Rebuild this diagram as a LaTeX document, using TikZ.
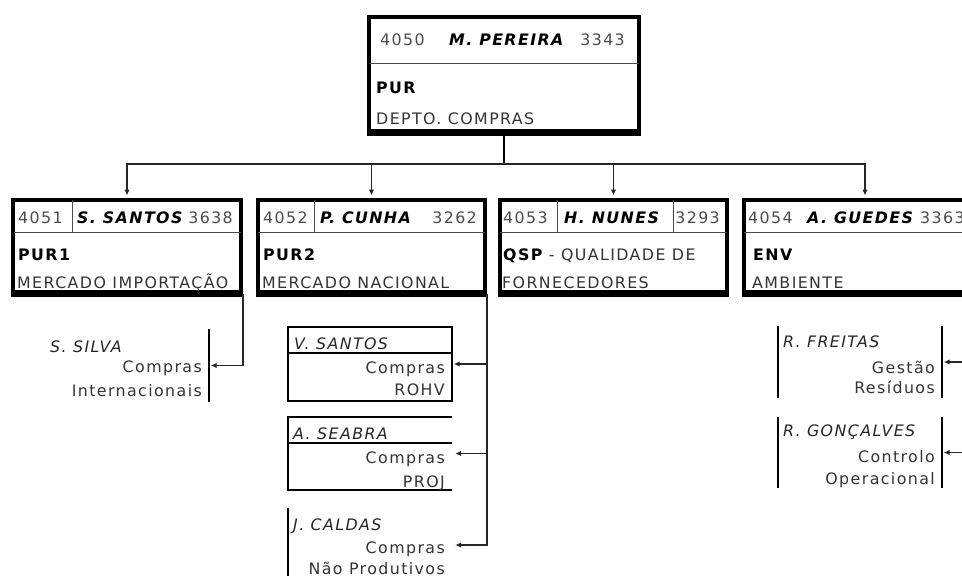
\documentclass[tikz,border=0pt]{standalone}
\usepackage{fontspec}
\setmainfont{DejaVu Sans}[LetterSpace=9]
\usetikzlibrary{arrows.meta}
\newcommand\fsz{\fontsize{15.8}{18}\selectfont}

\begin{document}
\begin{tikzpicture}[x=1pt, y=-1pt,
    unit/.style={draw, line width=4pt, inner sep=0pt, minimum height=92pt},
    sub/.style={inner sep=0pt, minimum width=164pt},
    lbl/.style={inner sep=0pt, font=\fsz, text=black!80},
    num/.style={lbl, text=black!70},
    who/.style={lbl, text=black, font=\fsz\bfseries\itshape},
    code/.style={lbl, text=black, font=\fsz\bfseries},
    staff/.style={lbl, text=black!85, font=\fsz\itshape},
    rule/.style={line width=1pt, black!70},
    side/.style={line width=1.6pt},
    conn/.style={line width=1.3pt, black!85, shorten >=1.5pt, -{Latex[length=6pt,width=5.5pt]}}
  ]
  \clip (0,0) rectangle (962,576);

  % head of department
  \node[unit, minimum width=270pt, minimum height=114pt] (pereira) at (504,74) {};
  \draw[rule] (369,63) -- (639,63);
  \node[num, anchor=base west] (pereiraext) at (380,45) {4050};
  \node[who, anchor=base west] (pereiraname) at (449,45) {M. PEREIRA};
  \node[num, anchor=base east] (pereiratel) at (625,45) {3343};
  \node[code, anchor=base west] (purcode) at (376,93) {PUR};
  \node[lbl, anchor=base west] (purname) at (376,124) {DEPTO. COMPRAS};

  % sections
  \node[unit, minimum width=228pt] (santos) at (127,246) {};
  \draw[rule] (13.5,232) -- (241,232);
  \draw[rule] (72,200) -- (72,232);
  \node[num, anchor=base west] (santosext) at (18,223) {4051};
  \node[who, anchor=base west] (santosname) at (77,223) {S. SANTOS};
  \node[num, anchor=base east] (santostel) at (233,223) {3638};
  \node[code, anchor=base west] (pur1code) at (18,260) {PUR1};
  \node[lbl, anchor=base west] (pur1name) at (17,288) {MERCADO IMPORTAÇÃO};

  \node[unit, minimum width=227pt] (cunha) at (371.5,246) {};
  \draw[rule] (258,232) -- (485,232);
  \draw[rule] (314,200) -- (314,232);
  \node[num, anchor=base west] (cunhaext) at (263,223) {4052};
  \node[who, anchor=base west] (cunhaname) at (320,223) {P. CUNHA};
  \node[num, anchor=base east] (cunhatel) at (477,223) {3262};
  \node[code, anchor=base west] (pur2code) at (263,260) {PUR2};
  \node[lbl, anchor=base west] (pur2name) at (262,288) {MERCADO NACIONAL};

  \node[unit, minimum width=227pt] (nunes) at (613.5,246) {};
  \draw[rule] (500,232) -- (727,232);
  \draw[rule] (557,200) -- (557,232);
  \draw[rule] (673,200) -- (673,232);
  \node[num, anchor=base west] (nunesext) at (503,223) {4053};
  \node[who, anchor=base west] (nunesname) at (564,223) {H. NUNES};
  \node[num, anchor=base east] (nunestel) at (720,223) {3293};
  \node[lbl, anchor=base west] (qspname) at (503,260) {\textcolor{black}{\bfseries QSP} - QUALIDADE DE};
  \node[lbl, anchor=base west] (qspname2) at (502,288) {FORNECEDORES};

  \node[unit, minimum width=242pt] (guedes) at (865,246) {};
  \draw[rule] (744,232) -- (986,232);
  \node[num, anchor=base west] (guedesext) at (748,223) {4054};
  \node[who, anchor=base west] (guedesname) at (807,223) {A. GUEDES};
  \node[num, anchor=base west] (guedestel) at (920,223) {3363};
  \node[code, anchor=base west] (envcode) at (753,260) {ENV};
  \node[lbl, anchor=base west] (envname) at (752,288) {AMBIENTE};

  \foreach \b in {pereira,santos,cunha,nunes,guedes}
    \draw[line width=3pt] ([yshift=-1.5pt]\b.south west) -- ([yshift=-1.5pt]\b.south east);

  % department to sections
  \coordinate (split) at (504,164);
  \draw[line width=1.3pt] (pereira.south) -- (split);
  \foreach \b in {santos,cunha,nunes,guedes}
    \draw[conn, shorten >=2.5pt] (split) -| (\b.north);

  % staff of S. SANTOS
  \node[sub, minimum width=170pt, minimum height=73pt] (silva) at (124,365.5) {};
  \draw[side] (silva.north east) -- (silva.south east);
  \node[staff, anchor=base west] (silvaname) at (50,352) {S. SILVA};
  \node[lbl, anchor=base east] (silvajob) at (202,372) {Compras};
  \node[lbl, anchor=base east] (silvajob2) at (202,396) {Internacionais};
  \draw[conn] (santos.south east) |- (silva.east);

  % staff of P. CUNHA
  \node[sub, minimum height=74pt] (vsantos) at (370,364) {};
  \draw[side] (vsantos.north west) rectangle (vsantos.south east);
  \draw[side] (288,353) -- (452,353);
  \node[staff, anchor=base west] (vsantosname) at (294,349) {V. SANTOS};
  \node[lbl, anchor=base east] (vsantosjob) at (445,373) {Compras};
  \node[lbl, anchor=base east] (vsantosjob2) at (445,395) {ROHV};

  \node[sub, minimum height=73pt] (seabra) at (370,453.5) {};
  \draw[side] (seabra.north east) -- (seabra.north west) -- (seabra.south west) -- (seabra.south east);
  \draw[side] (288,443) -- (452,443);
  \node[staff, anchor=base west] (seabraname) at (293,439) {A. SEABRA};
  \node[lbl, anchor=base east] (seabrajob) at (445,463) {Compras};
  \node[lbl, anchor=base east] (seabrajob2) at (445,487) {PROJ};

  \node[sub, minimum height=74pt] (caldas) at (370,545) {};
  \draw[side] (caldas.north west) -- (caldas.south west);
  \node[staff, anchor=base west] (caldasname) at (293,530) {J. CALDAS};
  \node[lbl, anchor=base east] (caldasjob) at (445,553) {Compras};
  \node[lbl, anchor=base east] (caldasjob2) at (445,574) {Não Produtivos};

  \draw[conn] (cunha.south east |- vsantos.east) -- (vsantos.east);
  \draw[conn, shorten >=3pt] (cunha.south east |- seabra.east) -- (seabra.east);
  \draw[conn, shorten >=3pt] (cunha.south east) |- (caldas.east);

  % staff of A. GUEDES
  \node[sub, minimum height=72pt] (freitas) at (860,362) {};
  \draw[side] (freitas.north west) -- (freitas.south west);
  \draw[side] (freitas.north east) -- (freitas.south east);
  \node[staff, anchor=base west] (freitasname) at (783,347) {R. FREITAS};
  \node[lbl, anchor=base east] (freitasjob) at (935,373) {Gestão};
  \node[lbl, anchor=base east] (freitasjob2) at (935,393) {Resíduos};

  \node[sub, minimum height=71pt] (goncalves) at (860,452.5) {};
  \draw[side] (goncalves.north west) -- (goncalves.south west);
  \draw[side] (goncalves.north east) -- (goncalves.south east);
  \node[staff, anchor=base west] (goncalvesname) at (783,436) {R. GONÇALVES};
  \node[lbl, anchor=base east] (goncalvesjob) at (935,462) {Controlo};
  \node[lbl, anchor=base east] (goncalvesjob2) at (935,484) {Operacional};

  \draw[conn] (guedes.south east) |- (freitas.east);
  \draw[conn] (guedes.south east) |- (goncalves.east);
\end{tikzpicture}
\end{document}
